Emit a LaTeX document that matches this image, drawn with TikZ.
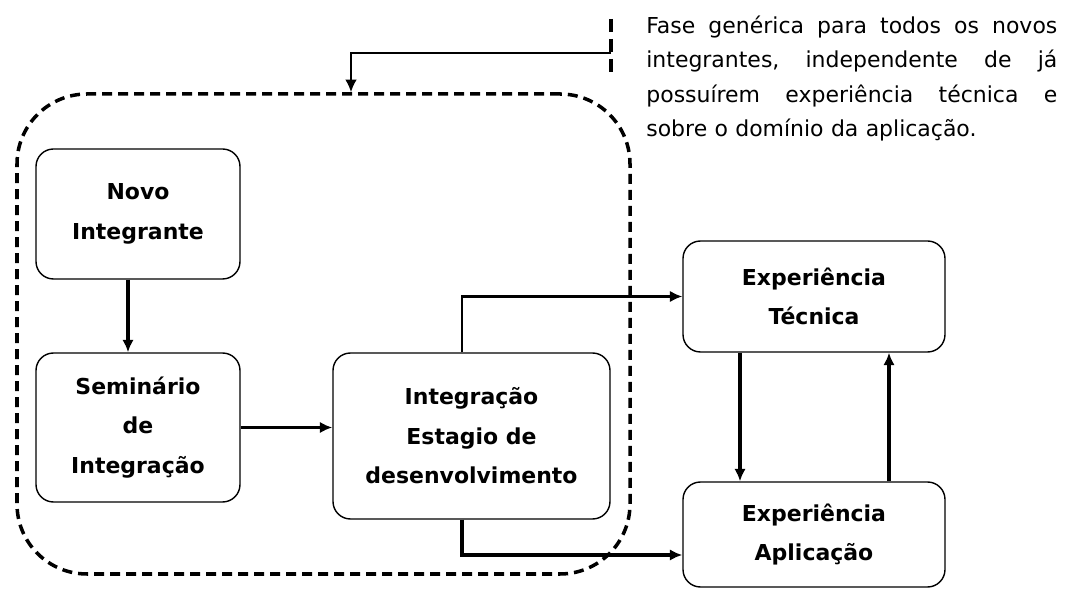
\documentclass[tikz,border=0pt]{standalone}
\usepackage{fontspec}
\setmainfont{DejaVu Sans}
\usepackage{tikz}
\usetikzlibrary{arrows.meta}
\usetikzlibrary{positioning}
\tikzset{>={Latex[length=2.5mm,width=2.3mm]}}
\tikzstyle{etapa} = [rectangle, draw=black, line width=0.8pt, rounded corners=3.5mm, align=center, inner sep=0pt, font=\bfseries\fontsize{12.5}{22.5}\selectfont]
\tikzstyle{fase} = [rectangle, draw=black, line width=2pt, dash pattern=on 2mm off 1.2mm, rounded corners=1.4cm]
\tikzstyle{marca} = [-, draw=black, line width=2.2pt, dash pattern=on 2.6mm off 1.4mm]
\tikzstyle{nota} = [text width=8.22cm, align=left, inner sep=0pt, font=\fontsize{12.5}{19.6}\selectfont]
\tikzstyle{fluxo} = [->, draw=black, line width=2.3pt]
\tikzstyle{ligacao} = [->, draw=black, line width=1.3pt]

\begin{document}
\begin{tikzpicture}
\useasboundingbox (0,0) rectangle (21.3,11.78);
\node [etapa, minimum width=4.08cm, minimum height=2.6cm] (NI) at (2.76, 7.5) {Novo\\Integrante};
\node [etapa, minimum width=4.08cm, minimum height=2.98cm] (SI) at (2.76, 3.23) {Seminário\\de\\Integração};
\node [etapa, minimum width=5.54cm, minimum height=3.32cm] (IE) at (9.43, 3.06) {Integração\\Estagio de\\desenvolvimento};
\node [etapa, minimum width=5.24cm, minimum height=2.22cm] (ET) at (16.28, 5.85) {Experiência\\Técnica};
\node [etapa, minimum width=5.24cm, minimum height=2.1cm] (EA) at (16.28, 1.09) {Experiência\\Aplicação};
\node [fase, minimum width=12.26cm, minimum height=9.6cm] (F) at (6.47, 5.1) {};
% nota sobre a fase generica
\coordinate (M1) at (12.22, 11.4);
\coordinate (M2) at (12.22, 10.32);
\coordinate (M) at (12.22, 10.72);
\draw [marca] (M1) to (M2);
\draw [->, draw=black, line width=1.1pt] (M) -| ([xshift=5.5mm]F.north);
\node [nota, anchor=north west] (T) at (12.92, 11.47) {%
\hbox to 8.22cm{Fase\hfill genérica\hfill para\hfill todos\hfill os\hfill novos}
\hbox to 8.22cm{integrantes,\hfill independente\hfill de\hfill já}
\hbox to 8.22cm{possuírem\hfill experiência\hfill técnica\hfill e}
\hbox{sobre o domínio da aplicação.}};
\draw [fluxo] ([xshift=-2mm]NI.south) to ([xshift=-2mm]SI.north);
\draw [fluxo, line width=2pt] (SI.east) to (SI.east -| IE.west);
\draw [ligacao] ([xshift=-1.9mm]IE.north) |- (ET.west);
\draw [fluxo, line width=1.8pt] ([xshift=-1.9mm]IE.south) |- ([yshift=-4.1mm]EA.west);
\draw [fluxo] ([xshift=-14.8mm]ET.south) to ([xshift=-14.8mm]EA.north);
\draw [fluxo] ([xshift=15mm]EA.north) to ([xshift=15mm]ET.south);
\end{tikzpicture}
\end{document}
